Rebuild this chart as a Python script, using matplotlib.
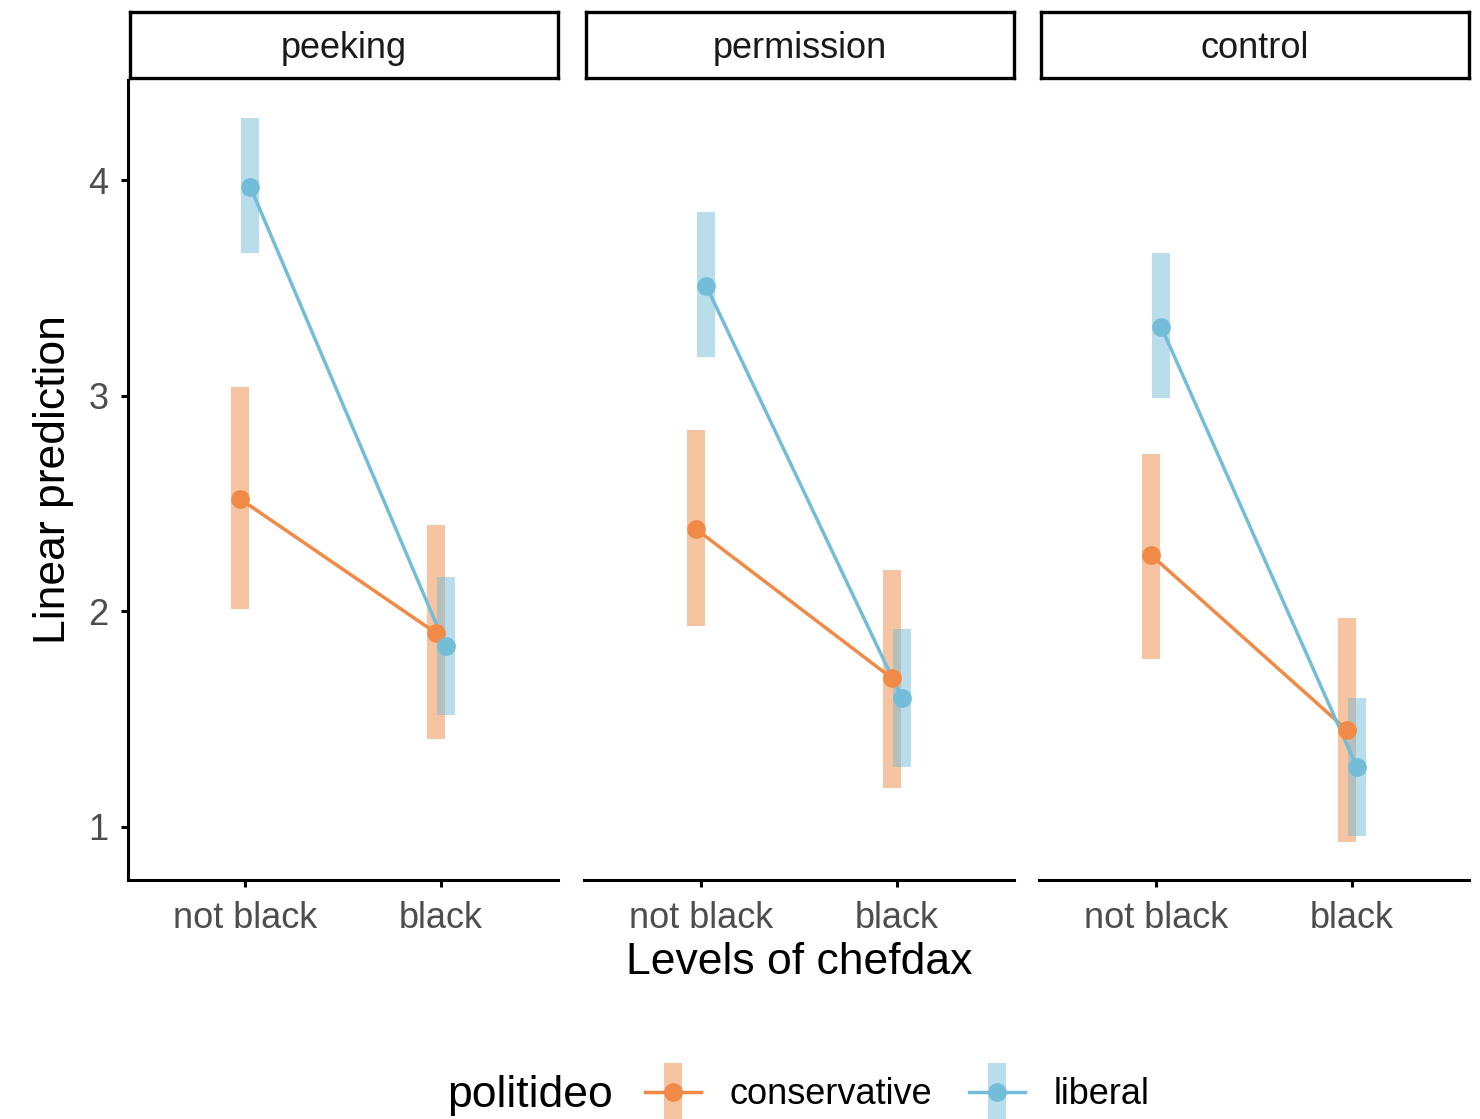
import numpy as np
import matplotlib.pyplot as plt
from matplotlib.lines import Line2D
from matplotlib.legend_handler import HandlerTuple

plt.rcParams['font.family'] = ['Liberation Sans', 'DejaVu Sans']

# estimated marginal means by condition, chef race and political ideology
conditions = ['peeking', 'permission', 'control']
chef_levels = ['not black', 'black']
groups = ['conservative', 'liberal']

cons_est = [[2.52, 1.90], [2.38, 1.69], [2.26, 1.45]]
cons_lo = [[2.01, 1.41], [1.93, 1.18], [1.78, 0.93]]
cons_hi = [[3.04, 2.40], [2.84, 2.19], [2.73, 1.97]]

lib_est = [[3.97, 1.84], [3.51, 1.60], [3.32, 1.28]]
lib_lo = [[3.66, 1.52], [3.18, 1.28], [2.99, 0.96]]
lib_hi = [[4.29, 2.16], [3.85, 1.92], [3.66, 1.60]]

colors = {'conservative': '#F08A46', 'liberal': '#74BDD8'}
dodge = {'conservative': -0.025, 'liberal': 0.025}
series = {
    'conservative': (cons_est, cons_lo, cons_hi),
    'liberal': (lib_est, lib_lo, lib_hi),
}

W, H = 1480, 1119
fig = plt.figure(figsize=(W / 100, H / 100), dpi=100)


def px_axes(x0, y0, x1, y1):
    return fig.add_axes([x0 / W, 1 - y1 / H, (x1 - x0) / W, (y1 - y0) / H])


panel_x = [(128, 558), (584, 1014), (1039, 1469)]
tick_color = '#4D4D4D'
line_w = 2.5
dot_size = 13.5

for i, cond in enumerate(conditions):
    x0, x1 = panel_x[i]
    ax = px_axes(x0, 80, x1, 880)
    xs = np.arange(1, len(chef_levels) + 1)
    for g in groups:
        est, lo, hi = series[g]
        xg = xs + dodge[g]
        ax.vlines(xg, lo[i], hi[i], color=colors[g], alpha=0.5, lw=13,
                  zorder=1)
    for g in groups:
        est, lo, hi = series[g]
        xg = xs + dodge[g]
        ax.plot(xg, est[i], color=colors[g], lw=line_w, zorder=2,
                solid_capstyle='butt')
        ax.plot(xg, est[i], 'o', color=colors[g], ms=dot_size, mec='none',
                zorder=3)
    ax.set_xlim(0.4, 2.6)
    ax.set_ylim(0.754, 4.464)
    ax.set_xticks(xs)
    ax.set_xticklabels(chef_levels)
    ax.set_yticks([1, 2, 3, 4])
    for s in ['top', 'right']:
        ax.spines[s].set_visible(False)
    ax.spines['bottom'].set_linewidth(2.2)
    ax.spines['left'].set_linewidth(2.2)
    ax.tick_params(axis='both', length=5, width=2.2, colors='black',
                   labelcolor=tick_color, labelsize=26)
    ax.tick_params(axis='x', pad=10)
    ax.tick_params(axis='y', pad=9)
    if i > 0:
        ax.spines['left'].set_visible(False)
        ax.tick_params(axis='y', left=False, labelleft=False)
    else:
        ax.set_ylabel('Linear prediction', fontsize=32, labelpad=10)

    # facet strip
    st = px_axes(x0 + 2, 12, x1, 78)
    st.set_xticks([])
    st.set_yticks([])
    for s in st.spines.values():
        s.set_linewidth(2.4)
    st.text(0.5, 0.45, cond, ha='center', va='center', fontsize=26,
            color='#1A1A1A', transform=st.transAxes)

fig.text(799 / W, 1 - 963 / H, 'Levels of chefdax', ha='center',
         va='center', fontsize=32)

# legend: band + line + point keys
handles = []
for g in groups:
    band = Line2D([], [], marker='|', ls='none', color=colors[g], alpha=0.5,
                  ms=42, mew=13)
    line = Line2D([], [], color=colors[g], lw=line_w, marker='o',
                  ms=dot_size, mec='none')
    handles.append((band, line))

fig.text(447 / W, 1 - 1095 / H, 'politideo', ha='left', va='center',
         fontsize=32)
fig.legend(handles, groups, handler_map={tuple: HandlerTuple(ndivide=1)},
           loc='center left', bbox_to_anchor=(645 / W, 1 - 1095 / H),
           ncol=2, frameon=False, fontsize=26, handlelength=1.55,
           handletextpad=0.8, columnspacing=1.0, borderpad=0,
           borderaxespad=0)

fig.savefig('out.png', dpi=100)
